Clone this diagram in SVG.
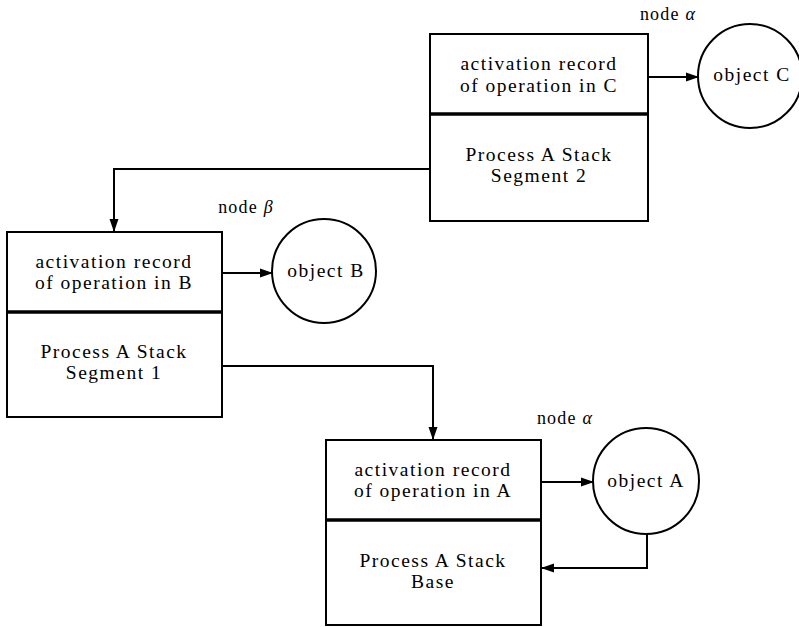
<svg xmlns="http://www.w3.org/2000/svg" width="799" height="627" viewBox="0 0 799 627">
<style>
text{font-family:"Liberation Serif","DejaVu Serif",serif;font-size:19.5px;fill:#000;text-anchor:middle;letter-spacing:1.5px}
.box{fill:#fff;stroke:#000;stroke-width:2}
.div{stroke:#000;stroke-width:3.5}
.obj{fill:#fff;stroke:#000;stroke-width:2}
.con{fill:none;stroke:#000;stroke-width:2}
.lbl{font-size:18px;letter-spacing:1.2px}
</style>
<defs>
<marker id="ah" markerWidth="13" markerHeight="10" refX="12" refY="5" orient="auto" markerUnits="userSpaceOnUse">
<path d="M0,0.5 L13,5 L0,9.5 Z" fill="#000"/>
</marker>
</defs>
<g id="connectors">
<path class="con" d="M430,169 H114 V231" marker-end="url(#ah)"/>
<path class="con" d="M222,366 H433 V439" marker-end="url(#ah)"/>
<path class="con" d="M648,77 H698" marker-end="url(#ah)"/>
<path class="con" d="M222,273 H272" marker-end="url(#ah)"/>
<path class="con" d="M541,482 H593" marker-end="url(#ah)"/>
<path class="con" d="M647,534 V568 H542" marker-end="url(#ah)"/>
</g>
<g id="stackC">
<rect class="box" x="430" y="34" width="218" height="187"/>
<line class="div" x1="430" y1="114" x2="648" y2="114"/>
<text x="539" y="70">activation record</text>
<text x="539" y="92">of operation in C</text>
<text x="539" y="161">Process A Stack</text>
<text x="539" y="182">Segment 2</text>
</g>
<g id="objectC">
<circle class="obj" cx="750" cy="76" r="52"/>
<text x="752" y="81">object C</text>
<text class="lbl" x="668" y="20">node <tspan font-style="italic">α</tspan></text>
</g>
<g id="stackB">
<rect class="box" x="7" y="232" width="215" height="185"/>
<line class="div" x1="7" y1="312" x2="222" y2="312"/>
<text x="114" y="268">activation record</text>
<text x="114" y="289">of operation in B</text>
<text x="114" y="358">Process A Stack</text>
<text x="114" y="379">Segment 1</text>
</g>
<g id="objectB">
<circle class="obj" cx="324" cy="271" r="52"/>
<text x="326" y="277">object B</text>
<text class="lbl" x="246" y="213">node <tspan font-style="italic">β</tspan></text>
</g>
<g id="stackA">
<rect class="box" x="326" y="440" width="215" height="185"/>
<line class="div" x1="326" y1="520" x2="541" y2="520"/>
<text x="433" y="476">activation record</text>
<text x="433" y="497">of operation in A</text>
<text x="433" y="567">Process A Stack</text>
<text x="433" y="588">Base</text>
</g>
<g id="objectA">
<circle class="obj" cx="646" cy="481" r="53"/>
<text x="646" y="487">object A</text>
<text class="lbl" x="565" y="424">node <tspan font-style="italic">α</tspan></text>
</g>
</svg>
